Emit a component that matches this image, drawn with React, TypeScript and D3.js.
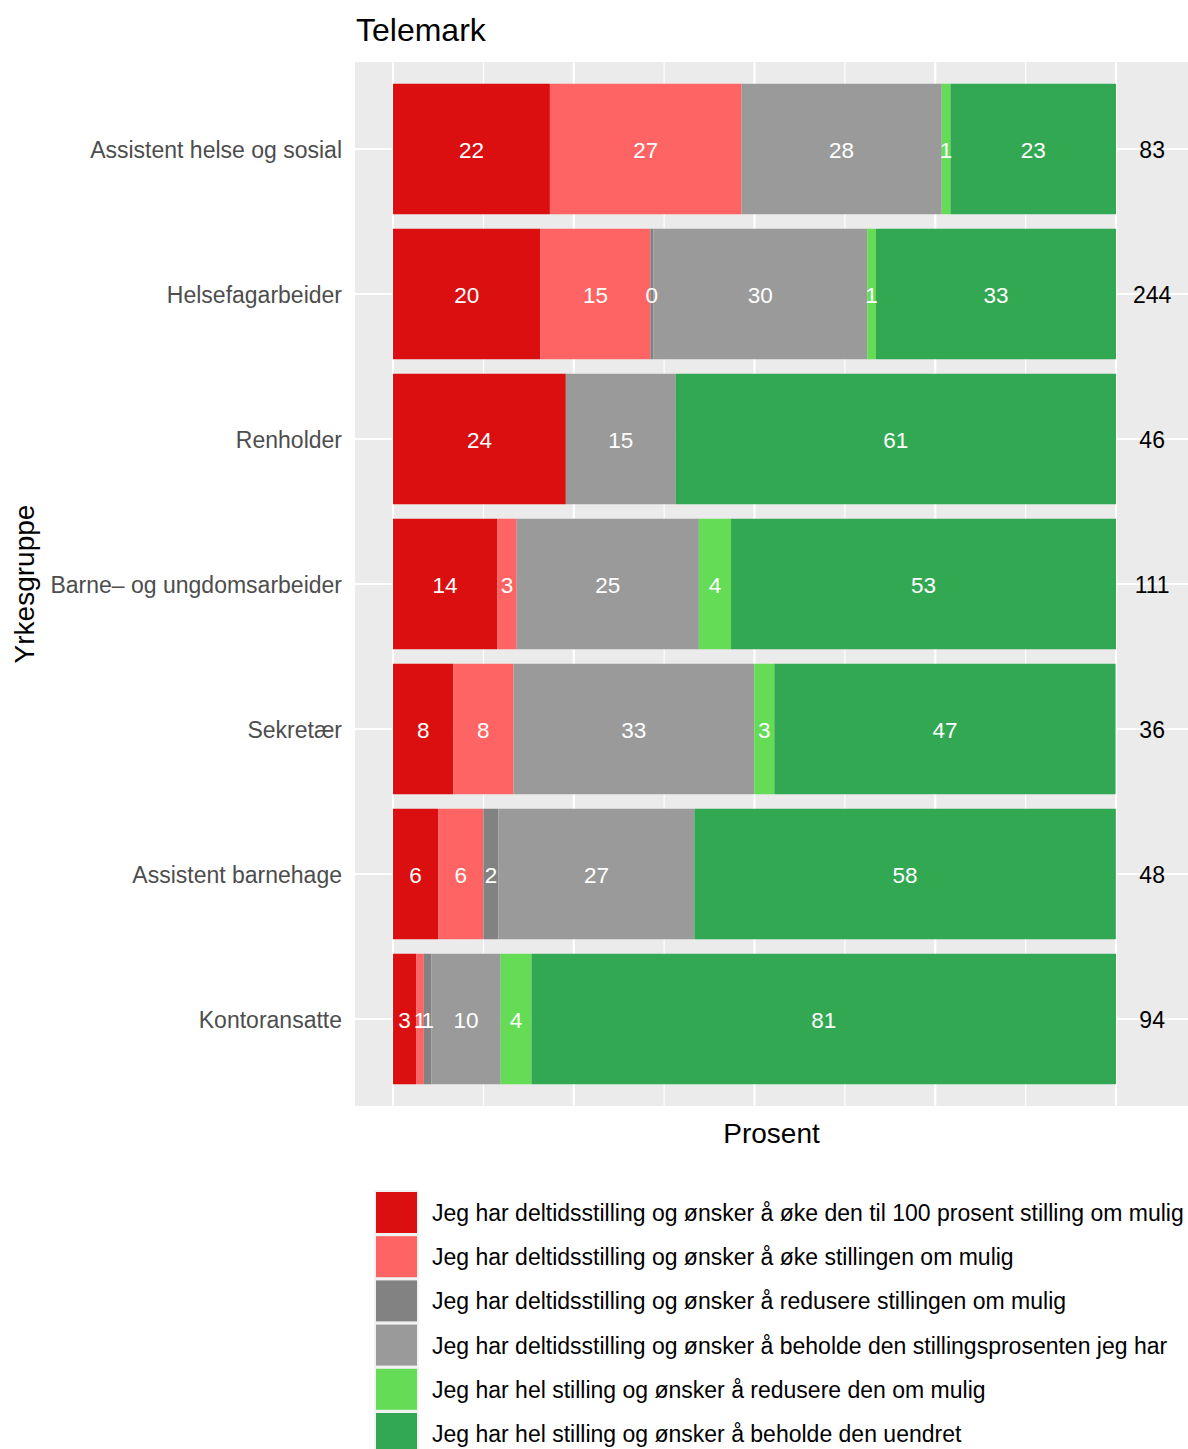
import React from "react";
import * as d3 from "d3";

if (typeof document !== "undefined") {
  document.body.style.margin = "0";
}

const title = "Telemark";
const categories = [
  "Assistent helse og sosial",
  "Helsefagarbeider",
  "Renholder",
  "Barne– og ungdomsarbeider",
  "Sekretær",
  "Assistent barnehage",
  "Kontoransatte",
];
const totals = [83, 244, 46, 111, 36, 48, 94];

const seriesNames = [
  "Jeg har deltidsstilling og ønsker å øke den til 100 prosent stilling om mulig",
  "Jeg har deltidsstilling og ønsker å øke stillingen om mulig",
  "Jeg har deltidsstilling og ønsker å redusere stillingen om mulig",
  "Jeg har deltidsstilling og ønsker å beholde den stillingsprosenten jeg har",
  "Jeg har hel stilling og ønsker å redusere den om mulig",
  "Jeg har hel stilling og ønsker å beholde den uendret",
];
const seriesColors = ["#DB0F0F", "#FF6464", "#828282", "#9A9A9A", "#64DC55", "#33A853"];

const okeFull = [21.7, 20.4, 23.9, 14.4, 8.33, 6.25, 3.2];
const okeStilling = [26.5, 15.2, null, 2.7, 8.33, 6.25, 1.06];
const redusereDeltid = [null, 0.4, null, null, null, 2.08, 1.06];
const beholdeDeltid = [27.7, 29.6, 15.2, 25.2, 33.3, 27.1, 9.57];
const redusereHel = [1.2, 1.2, null, 4.45, 2.78, null, 4.26];
const beholdeHel = [22.9, 33.2, 60.9, 53.25, 47.2, 58.3, 80.85];

const seriesValues: (number | null)[][] = [
  okeFull,
  okeStilling,
  redusereDeltid,
  beholdeDeltid,
  redusereHel,
  beholdeHel,
];

const majorBreaks = [0, 25, 50, 75, 100];
const minorBreaks = [12.5, 37.5, 62.5, 87.5];

const W = 1188;
const H = 1449;
const panel = { left: 355, right: 1188, top: 62, bottom: 1106 };
const FONT = "'Liberation Sans', Arial, Helvetica, sans-serif";

export default function App() {
  const x = d3.scaleLinear().domain([-5.26, 109.96]).range([panel.left, panel.right]);
  const y = d3
    .scaleBand<string>()
    .domain(categories)
    .range([panel.top, panel.bottom])
    .paddingInner(0.1)
    .paddingOuter(0.15);
  const bw = y.bandwidth();

  const table = categories.map((c, i) => {
    const row: any = { cat: c };
    seriesValues.forEach((s, k) => {
      row["s" + k] = s[i];
    });
    return row;
  });
  const keys = seriesValues.map((_, k) => "s" + k);
  const stacked = d3
    .stack<any>()
    .keys(keys)
    .value((d, key) => (d[key] == null ? 0 : d[key]))(table);

  const legendX = 376;
  const legendKey = 41;
  const legendStep = 44.2;
  const legendCenter0 = 1212.5;
  const dy = 9;

  return (
    <svg width={W} height={H} style={{ display: "block", fontFamily: FONT }}>
      <rect x={0} y={0} width={W} height={H} fill="#FFFFFF" />
      <rect
        x={panel.left}
        y={panel.top}
        width={panel.right - panel.left}
        height={panel.bottom - panel.top}
        fill="#EBEBEB"
      />
      {minorBreaks.map((b) => (
        <line
          key={"mi" + b}
          x1={x(b)}
          x2={x(b)}
          y1={panel.top}
          y2={panel.bottom}
          stroke="#FFFFFF"
          strokeWidth={1.1}
        />
      ))}
      {majorBreaks.map((b) => (
        <line
          key={"ma" + b}
          x1={x(b)}
          x2={x(b)}
          y1={panel.top}
          y2={panel.bottom}
          stroke="#FFFFFF"
          strokeWidth={2.1}
        />
      ))}
      {categories.map((c) => (
        <line
          key={"hg" + c}
          x1={panel.left}
          x2={panel.right}
          y1={(y(c) as number) + bw / 2}
          y2={(y(c) as number) + bw / 2}
          stroke="#FFFFFF"
          strokeWidth={2.1}
        />
      ))}
      {stacked.map((layer, k) =>
        layer.map((seg, i) => {
          if (seriesValues[k][i] == null) return null;
          const y0 = y(categories[i]) as number;
          return (
            <rect
              key={"b" + k + "-" + i}
              x={x(seg[0])}
              y={y0}
              width={Math.max(0, x(seg[1]) - x(seg[0]))}
              height={bw}
              fill={seriesColors[k]}
            />
          );
        })
      )}
      {stacked.map((layer, k) =>
        layer.map((seg, i) => {
          const v = seriesValues[k][i];
          if (v == null) return null;
          const yc = (y(categories[i]) as number) + bw / 2;
          return (
            <text
              key={"l" + k + "-" + i}
              x={x((seg[0] + seg[1]) / 2)}
              y={yc + dy}
              textAnchor="middle"
              fontSize={22.5}
              fill="#FFFFFF"
            >
              {Math.round(v)}
            </text>
          );
        })
      )}
      {categories.map((c, i) => (
        <text
          key={"n" + c}
          x={x(105)}
          y={(y(c) as number) + bw / 2 + dy}
          textAnchor="middle"
          fontSize={23}
          fill="#000000"
        >
          {totals[i]}
        </text>
      ))}
      {categories.map((c) => (
        <text
          key={"yl" + c}
          x={342}
          y={(y(c) as number) + bw / 2 + dy}
          textAnchor="end"
          fontSize={23}
          fill="#4D4D4D"
        >
          {c}
        </text>
      ))}
      <text x={356} y={41} fontSize={32} fill="#000000">
        {title}
      </text>
      <text
        x={(panel.left + panel.right) / 2}
        y={1143}
        textAnchor="middle"
        fontSize={28}
        fill="#000000"
      >
        Prosent
      </text>
      <text
        transform={`translate(34,${(panel.top + panel.bottom) / 2}) rotate(-90)`}
        textAnchor="middle"
        fontSize={28}
        fill="#000000"
      >
        Yrkesgruppe
      </text>
      <rect
        x={legendX - 2}
        y={legendCenter0 - legendKey / 2 - 2}
        width={legendKey + 4}
        height={legendStep * seriesNames.length + 4}
        fill="#F2F2F2"
      />
      {seriesNames.map((name, k) => {
        const cy = legendCenter0 + k * legendStep;
        return (
          <g key={"lg" + k}>
            <rect
              x={legendX}
              y={cy - legendKey / 2}
              width={legendKey}
              height={legendKey}
              fill={seriesColors[k]}
            />
            <text x={432} y={cy + 8.5} fontSize={23} fill="#000000">
              {name}
            </text>
          </g>
        );
      })}
    </svg>
  );
}
